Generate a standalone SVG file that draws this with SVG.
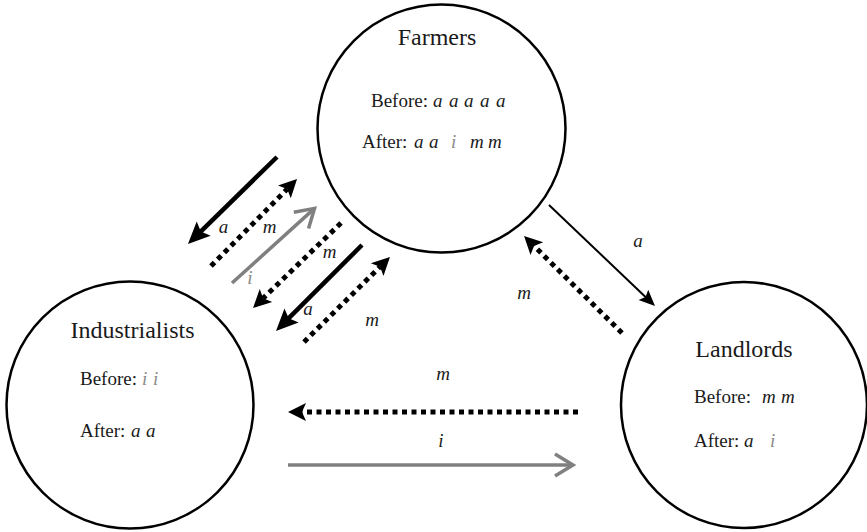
<svg xmlns="http://www.w3.org/2000/svg" width="867" height="532" viewBox="0 0 867 532" font-family="'Liberation Serif', 'Times New Roman', 'DejaVu Serif', serif">
<style>
.node circle{fill:none;stroke:#000;stroke-width:2.5}
text{font-family:'Liberation Serif','Times New Roman','DejaVu Serif',serif;fill:#1a1a1a}
.title{font-size:24px;text-anchor:middle}
.row{font-size:19px}
.it{font-style:italic}
.g{fill:#8a8a8a}
.lbl{font-size:19px;font-style:italic;text-anchor:middle}
.solid{stroke:#000;stroke-width:4.5;fill:none;marker-end:url(#hSolid)}
.thin{stroke:#000;stroke-width:2;fill:none;marker-end:url(#hThin)}
.dot{stroke:#000;stroke-width:5;stroke-dasharray:5 4.5;fill:none;marker-end:url(#hDot)}
.gray{stroke:#808080;stroke-width:3.5;fill:none;marker-end:url(#hGray)}
</style>
<defs>
<marker id="hSolid" markerUnits="userSpaceOnUse" orient="auto" refX="0" refY="0" markerWidth="1" markerHeight="1" overflow="visible"><path d="M16,0 L-6,-10 L-2,0 L-6,10 Z" fill="#000"/></marker>
<marker id="hThin" markerUnits="userSpaceOnUse" orient="auto" refX="0" refY="0" markerWidth="1" markerHeight="1" overflow="visible"><path d="M12,0 L-4,-7 L-1,0 L-4,7 Z" fill="#000"/></marker>
<marker id="hDot" markerUnits="userSpaceOnUse" orient="auto" refX="0" refY="0" markerWidth="1" markerHeight="1" overflow="visible"><path d="M14,0 L-4,-9 L0,0 L-4,9 Z" fill="#000"/></marker>
<marker id="hGray" markerUnits="userSpaceOnUse" orient="auto" refX="0" refY="0" markerWidth="1" markerHeight="1" overflow="visible"><path d="M-15,-11 L3,0 L-15,11" fill="none" stroke="#808080" stroke-width="3.5"/></marker>
</defs>
<rect width="867" height="532" fill="#fff"/>
<g id="farmers" class="node">
<circle cx="441.5" cy="128.5" r="124"/>
<text class="title" x="437" y="45">Farmers</text>
<text class="row" x="371" y="107">Before:<tspan class="it" x="433">a</tspan><tspan class="it" x="449">a</tspan><tspan class="it" x="464">a</tspan><tspan class="it" x="480">a</tspan><tspan class="it" x="496">a</tspan></text>
<text class="row" x="362" y="148">After:<tspan class="it" x="414">a</tspan><tspan class="it" x="429">a</tspan><tspan class="it g" x="451">i</tspan><tspan class="it" x="470">m</tspan><tspan class="it" x="488">m</tspan></text>
</g>
<g id="industrialists" class="node">
<circle cx="130" cy="405" r="123.5"/>
<text class="title" x="132.5" y="338">Industrialists</text>
<text class="row" x="80" y="385">Before:<tspan class="it g" x="142">i</tspan><tspan class="it g" x="153">i</tspan></text>
<text class="row" x="80" y="437">After:<tspan class="it" x="131">a</tspan><tspan class="it" x="146">a</tspan></text>
</g>
<g id="landlords" class="node">
<circle cx="744" cy="405" r="123"/>
<text class="title" x="744" y="357">Landlords</text>
<text class="row" x="694" y="403">Before:<tspan class="it" x="762">m</tspan><tspan class="it" x="781">m</tspan></text>
<text class="row" x="694" y="447">After:<tspan class="it" x="744">a</tspan><tspan class="it g" x="770">i</tspan></text>
</g>
<g id="connectors">
<line class="solid" x1="277" y1="157" x2="199.4" y2="232.8"/>
<line class="solid" x1="362" y1="245" x2="287.3" y2="319.7"/>
<line class="dot" x1="211" y1="266" x2="287.2" y2="189"/>
<line class="dot" x1="341" y1="223" x2="263.1" y2="298.3"/>
<line class="dot" x1="304" y1="342" x2="380" y2="266.8"/>
<line class="gray" x1="232" y1="283" x2="312.3" y2="210.4"/>
<line class="thin" x1="549" y1="205" x2="646.3" y2="297.7"/>
<line class="dot" x1="622" y1="333" x2="534" y2="245.9"/>
<line class="dot" x1="578" y1="412" x2="302" y2="412"/>
<line class="gray" x1="288" y1="465" x2="570" y2="465"/>
<text class="lbl" x="223.5" y="233">a</text>
<text class="lbl" x="269.5" y="233">m</text>
<text class="lbl g" x="250" y="284">i</text>
<text class="lbl" x="329.5" y="258">m</text>
<text class="lbl" x="308" y="315">a</text>
<text class="lbl" x="372" y="326">m</text>
<text class="lbl" x="638" y="247">a</text>
<text class="lbl" x="524" y="299">m</text>
<text class="lbl" x="443" y="380">m</text>
<text class="lbl" x="441" y="447">i</text>
</g>
</svg>
